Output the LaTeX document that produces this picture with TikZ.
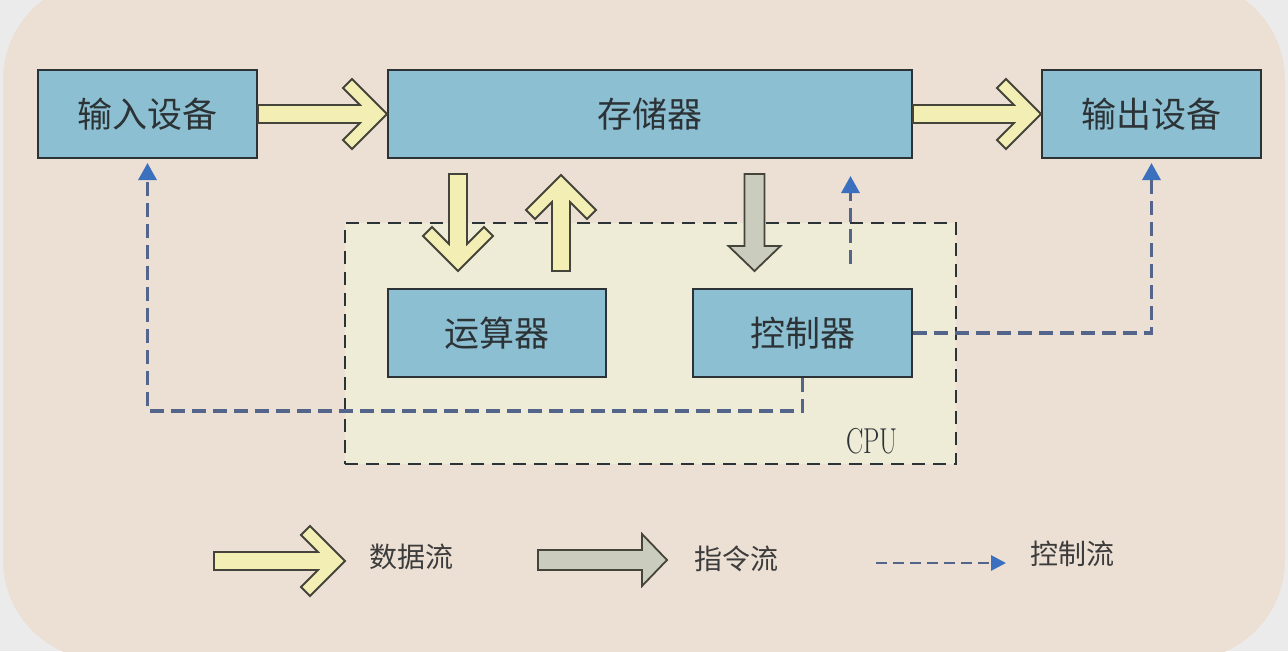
\documentclass[tikz,border=0pt]{standalone}
\usepackage{fontspec}
\newfontfamily\cjk{Noto Sans CJK SC}
\usetikzlibrary{arrows.meta,calc}
\definecolor{paper}{HTML}{EBEBEB}
\definecolor{sand}{HTML}{ECDFD3}
\definecolor{ink}{HTML}{2C3336}
\definecolor{unitFill}{HTML}{8DBFD2}
\definecolor{cpuTint}{HTML}{EEEBD6}
\definecolor{edge}{HTML}{45443A}
\definecolor{data}{HTML}{F3EEB3}
\definecolor{instr}{HTML}{CACCBD}
\definecolor{ctrl}{HTML}{53658B}
\definecolor{ctrlTip}{HTML}{3A70BD}
\definecolor{muted}{HTML}{3C3C3C}
% local points of a flow arrow: #1 back from the tip, #2 to the side
\newcommand\fwl[2]{($(\tikztotarget)!#1pt!(\tikztostart)!#2pt!90:(\tikztotarget)$)}
\newcommand\fwr[2]{($(\tikztotarget)!#1pt!(\tikztostart)!#2pt!-90:(\tikztotarget)$)}
\tikzset{
  unitbox/.style={draw=ink, fill=unitFill, line width=2pt, minimum height=88pt, inner sep=0pt,
    font=\cjk\fontsize{35}{40}\selectfont, text=ink},
  cpubox/.style={draw=ink, fill=cpuTint, line width=1.8pt, dash pattern=on 13pt off 8pt},
  cputext/.style={inner sep=0pt, font=\fontsize{36}{40}\selectfont, text=ink},
  lgtext/.style={inner sep=0pt, font=\cjk\fontsize{28}{32}\selectfont, text=muted},
  dataflow/.style={draw=edge, fill=data, line width=1.8pt, line join=miter,
    to path={($(\tikztostart)!9pt!90:(\tikztotarget)$) -- \fwl{27}{9} -- \fwl{44}{26} -- \fwl{35}{35}
      -- (\tikztotarget) -- \fwr{35}{35} -- \fwr{44}{26} -- \fwr{27}{9}
      -- ($(\tikztostart)!9pt!-90:(\tikztotarget)$) -- cycle}},
  instrflow/.style={draw=edge, fill=instr, line width=1.8pt, line join=miter,
    to path={($(\tikztostart)!10pt!90:(\tikztotarget)$) -- \fwl{25}{10} -- \fwl{25}{26}
      -- (\tikztotarget) -- \fwr{25}{26} -- \fwr{25}{10}
      -- ($(\tikztostart)!10pt!-90:(\tikztotarget)$) -- cycle}},
  ctrlflow/.style={draw=ctrl, line width=3.2pt, dash pattern=on 14pt off 7pt,
    -{Triangle[length=17pt, width=18pt, color=ctrlTip]}},
}
\begin{document}
\begin{tikzpicture}[x=1pt, y=-1pt]
  \useasboundingbox (0,0) rectangle (1288,651);
  \fill[paper] (0,0) rectangle (1288,651);
  \begin{scope}
    \clip (0,0) rectangle (1288,651);
    \fill[sand, rounded corners=100pt] (3,-20) rectangle (1285,660);
  \end{scope}

  \node[unitbox, minimum width=219pt] (in) at (147.5,114) {输入设备};
  \node[unitbox, minimum width=524pt] (mem) at (650,114) {存储器};
  \node[unitbox, minimum width=219pt] (out) at (1151.5,114) {输出设备};

  % CPU frame with its two units
  \node[cpubox, minimum width=611pt, minimum height=241pt] (cpu) at (650.5,343.5) {};
  \node[cputext] (cpulab) at (872,441) {\scalebox{.72}[1]{CPU}};
  \node[unitbox, minimum width=218pt] (alu) at (497,333) {运算器};
  \node[unitbox, minimum width=219pt] (ctl) at (802.5,333) {控制器};

  \draw[dataflow] (in.east) to (mem.west);
  \draw[dataflow] (mem.east) to (out.west);

  \coordinate (aluIn0) at ($(alu.north)+(-39,-114)$);  \coordinate (aluIn1) at ($(alu.north)+(-39,-17)$);
  \coordinate (aluOut0) at ($(alu.north)+(64,-17)$);   \coordinate (aluOut1) at ($(alu.north)+(64,-113)$);
  \coordinate (ctlIn0) at ($(ctl.north)+(-48,-114)$);  \coordinate (ctlIn1) at ($(ctl.north)+(-48,-17)$);
  \coordinate (ctlUp0) at ($(ctl.north)+(48,-24)$);    \coordinate (ctlUp1) at ($(ctl.north)+(48,-112)$);
  \draw[dataflow] (aluIn0) to (aluIn1);
  \draw[dataflow] (aluOut0) to (aluOut1);
  \draw[instrflow] (ctlIn0) to (ctlIn1);

  \draw[ctrlflow] (ctlUp0) -- (ctlUp1);
  \draw[ctrlflow] (ctl.east) -| ([yshift=-4pt]out.south);
  \draw[ctrlflow] (ctl.south) -- ++(0,33) -| ([yshift=-4pt]in.south);

  % legend
  \node[lgtext] (lgData) at (411,557) {数据流};
  \node[lgtext] (lgInstr) at (736,559) {指令流};
  \node[lgtext] (lgCtrl) at (1072,554) {控制流};
  \coordinate (lgData0) at (214,561);  \coordinate (lgData1) at (345,561);
  \coordinate (lgInstr0) at (538,560); \coordinate (lgInstr1) at (667,560);
  \coordinate (lgCtrl0) at (876,563);  \coordinate (lgCtrl1) at (1006,563);
  \draw[dataflow] (lgData0) to (lgData1);
  \draw[instrflow] (lgInstr0) to (lgInstr1);
  \draw[ctrlflow, line width=2.8pt, dash pattern=on 11pt off 6pt, -{Triangle[length=15pt, width=15pt, color=ctrlTip]}] (lgCtrl0) -- (lgCtrl1);
\end{tikzpicture}
\end{document}
